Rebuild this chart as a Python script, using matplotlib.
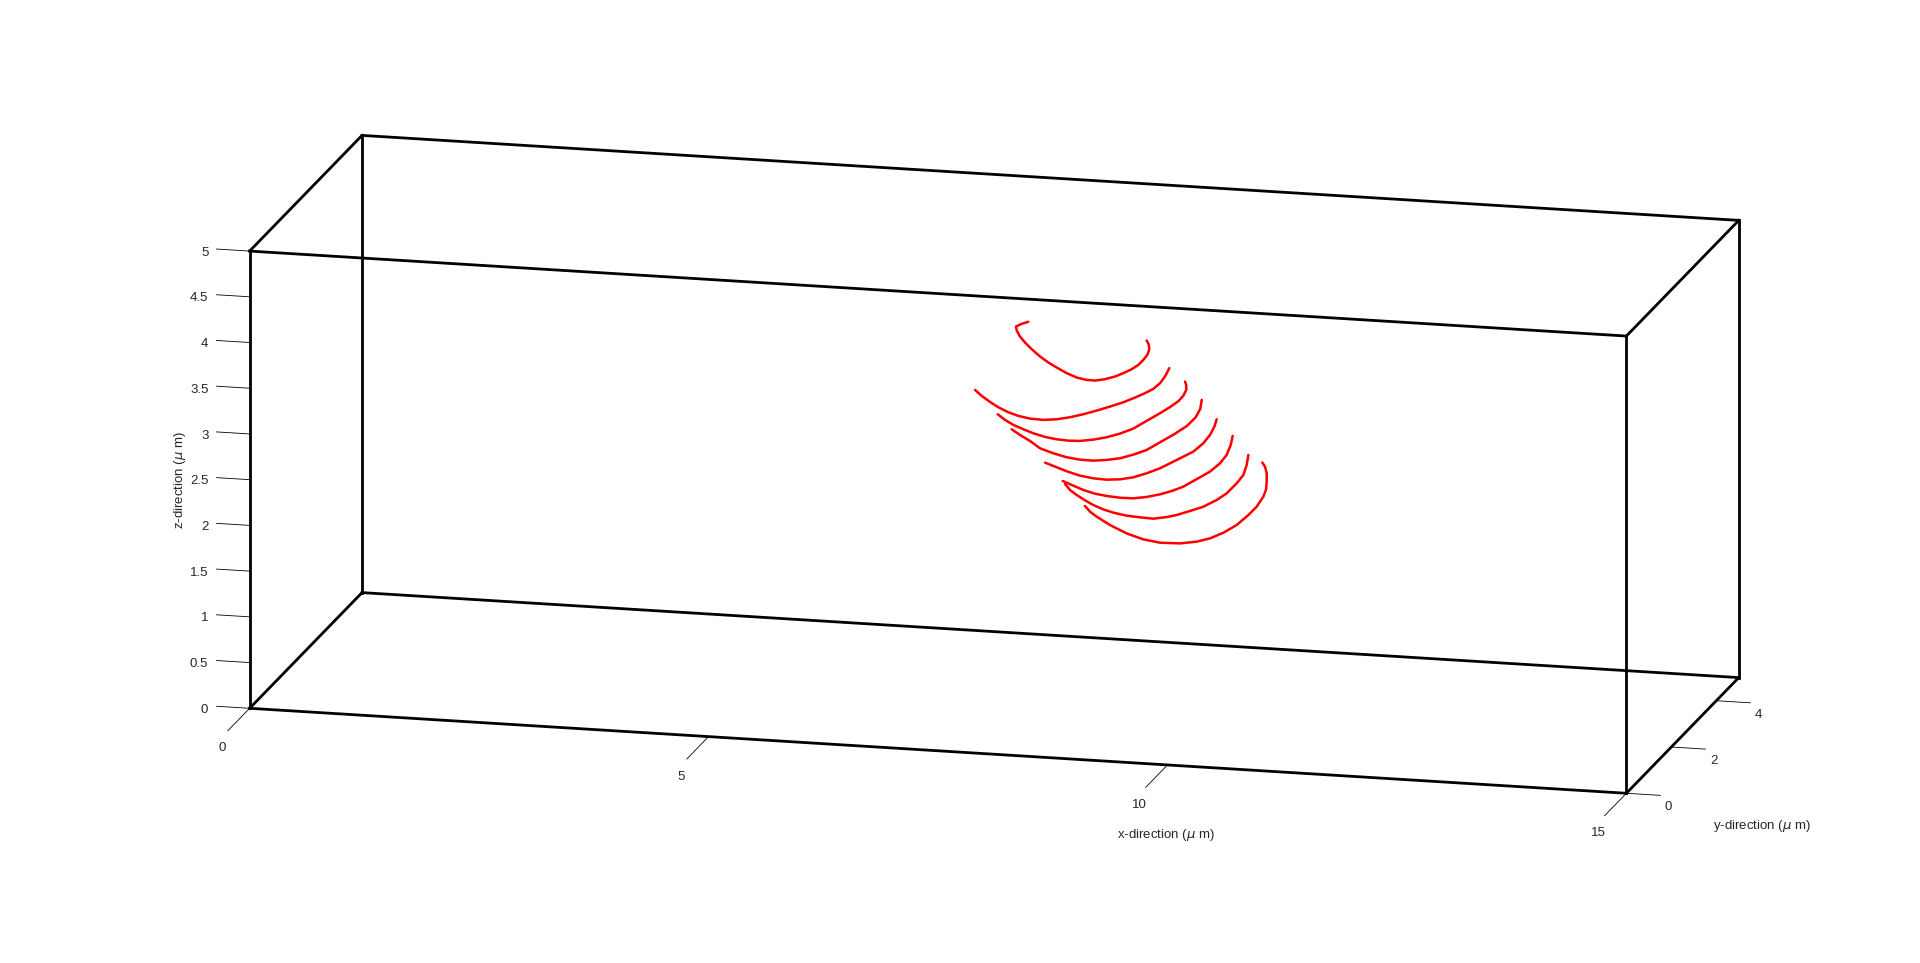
import itertools
import numpy as np
import matplotlib
matplotlib.use("Agg")
import matplotlib.pyplot as plt
from mpl_toolkits.mplot3d import proj3d

plt.rcParams['font.family'] = ['Liberation Sans', 'DejaVu Sans']

# axis limits and ticks
x_lim = (0, 15)
y_lim = (0, 5)
z_lim = (0, 5)
x_ticks = [0, 5, 10, 15]
y_ticks = [0, 2, 4]
z_ticks = [0, 0.5, 1, 1.5, 2, 2.5, 3, 3.5, 4, 4.5, 5]
z_tick_labels = ['0', '0.5', '1', '1.5', '2', '2.5', '3', '3.5', '4', '4.5', '5']

# red curves (all lie on the plane y = curve_y)
curve_y = 2.5
curve_x = [
    [7.872, 7.799, 7.738, 7.745, 7.781, 7.836, 7.908, 8.000, 8.090, 8.181, 8.290, 8.399,
     8.500, 8.598, 8.707, 8.816, 8.907, 8.998, 9.071, 9.125, 9.169, 9.190, 9.183, 9.161],
    [7.291, 7.364, 7.454, 7.545, 7.654, 7.763, 7.890, 8.035, 8.181, 8.326, 8.471, 8.617,
     8.762, 8.907, 9.034, 9.143, 9.234, 9.307, 9.361, 9.408],
    [7.538, 7.618, 7.709, 7.818, 7.926, 8.054, 8.181, 8.308, 8.435, 8.580, 8.725, 8.871,
     9.016, 9.161, 9.307, 9.416, 9.510, 9.562, 9.593, 9.592, 9.579],
    [7.690, 7.781, 7.890, 8.000, 8.144, 8.290, 8.435, 8.580, 8.725, 8.871, 9.016, 9.161,
     9.307, 9.460, 9.600, 9.695, 9.745, 9.761],
    [8.054, 8.163, 8.290, 8.435, 8.580, 8.725, 8.871, 9.016, 9.161, 9.307, 9.488, 9.670,
     9.779, 9.851, 9.899, 9.924],
    [8.246, 8.362, 8.471, 8.598, 8.725, 8.871, 9.016, 9.161, 9.307, 9.434, 9.561, 9.742,
     9.851, 9.960, 10.033, 10.077, 10.098],
    [8.271, 8.326, 8.399, 8.489, 8.580, 8.689, 8.798, 8.943, 9.089, 9.234, 9.379, 9.488,
     9.633, 9.779, 9.924, 10.033, 10.142, 10.215, 10.251, 10.269],
    [8.489, 8.544, 8.616, 8.762, 8.943, 9.125, 9.307, 9.525, 9.706, 9.851, 9.997, 10.142,
     10.269, 10.360, 10.432, 10.461, 10.469, 10.469, 10.451, 10.421],
]
curve_z = [
    [4.082, 4.055, 4.022, 3.979, 3.915, 3.853, 3.785, 3.710, 3.650, 3.601, 3.546, 3.505,
     3.486, 3.484, 3.506, 3.542, 3.584, 3.633, 3.685, 3.743, 3.801, 3.864, 3.918, 3.957],
    [3.301, 3.240, 3.180, 3.127, 3.079, 3.046, 3.024, 3.019, 3.035, 3.066, 3.108, 3.157,
     3.210, 3.266, 3.325, 3.380, 3.433, 3.499, 3.576, 3.670],
    [3.050, 2.993, 2.944, 2.903, 2.866, 2.834, 2.816, 2.809, 2.814, 2.837, 2.872, 2.921,
     2.985, 3.078, 3.171, 3.245, 3.318, 3.380, 3.444, 3.499, 3.534],
    [2.895, 2.839, 2.780, 2.706, 2.661, 2.626, 2.609, 2.607, 2.624, 2.651, 2.700, 2.760,
     2.853, 2.950, 3.050, 3.150, 3.245, 3.345],
    [2.553, 2.516, 2.473, 2.434, 2.414, 2.408, 2.421, 2.452, 2.505, 2.569, 2.671, 2.774,
     2.872, 2.967, 3.061, 3.143],
    [2.364, 2.320, 2.280, 2.247, 2.230, 2.220, 2.222, 2.246, 2.284, 2.328, 2.384, 2.497,
     2.566, 2.664, 2.760, 2.872, 2.972],
    [2.333, 2.271, 2.220, 2.168, 2.122, 2.081, 2.052, 2.028, 2.019, 2.013, 2.040, 2.069,
     2.122, 2.178, 2.260, 2.340, 2.456, 2.552, 2.664, 2.774],
    [2.106, 2.047, 1.997, 1.914, 1.834, 1.780, 1.755, 1.761, 1.791, 1.836, 1.907, 2.000,
     2.117, 2.214, 2.328, 2.403, 2.495, 2.586, 2.658, 2.700],
]

fig = plt.figure(figsize=(19.2, 9.63), dpi=100)
ax = fig.add_axes([0.0043, -0.506, 1.0, 1920 / 963], projection='3d')
ax.set_proj_type('ortho')
ax.view_init(elev=14.6, azim=-76.24)
ax.set_box_aspect((3, 1, 1), zoom=0.7923)
ax.set_xlim(*x_lim)
ax.set_ylim(*y_lim)
ax.set_zlim(*z_lim)
# the built-in 3d axes are hidden; box, ticks and labels are drawn below
ax.set_xticks([])
ax.set_yticks([])
ax.set_zticks([])
ax.set_axis_off()

M = ax.get_proj()


def label3d(x, y, z, s, **kw):
    # project the 3d anchor once and put a plain 2d text there
    px, py, _ = proj3d.proj_transform(x, y, z, M)
    ax.text2D(px, py, s, transform=ax.transData, fontsize=fs, color=tc, **kw)


# box: all 12 edges
corners = list(itertools.product(x_lim, y_lim, z_lim))
for p, q in itertools.combinations(corners, 2):
    if sum(a != b for a, b in zip(p, q)) == 1:
        ax.plot([p[0], q[0]], [p[1], q[1]], [p[2], q[2]], color='black', lw=2.0,
                solid_capstyle='projecting')

fs = 9.5
tc = '#262626'
# x ticks along the front bottom edge
for xt in x_ticks:
    ax.plot([xt, xt], [y_lim[0], y_lim[0] - 0.97], [z_lim[0], z_lim[0]], color='black', lw=0.6)
    label3d(xt, y_lim[0] - 1.23, z_lim[0] - 0.125, str(xt), ha='center', va='center')

# y ticks along the right bottom edge
for yt in y_ticks:
    ax.plot([x_lim[1], x_lim[1] + 0.37], [yt, yt], [z_lim[0], z_lim[0]], color='black', lw=0.6)
    label3d(x_lim[1] + 0.46, yt, z_lim[0] - 0.125, str(yt), ha='center', va='center')

# z ticks along the front left edge
for zt, lab in zip(z_ticks, z_tick_labels):
    ax.plot([x_lim[0], x_lim[0] - 0.36], [y_lim[0], y_lim[0]], [zt, zt], color='black', lw=0.6)
    label3d(x_lim[0] - 0.45, y_lim[0], zt - 0.045, lab, ha='right', va='center')

label3d(10.29, -1.23, -0.435, r'x-direction ($\mu$ m)', ha='center', va='center')
label3d(15.46, 4.17, -1.385, r'y-direction ($\mu$ m)', ha='center', va='center')
label3d(-0.755, 0, 2.446, r'z-direction ($\mu$ m)', ha='center', va='center', rotation=90)

for cx, cz in zip(curve_x, curve_z):
    ax.plot(cx, [curve_y] * len(cx), cz, color='red', lw=1.8,
            solid_joinstyle='round', solid_capstyle='round')

fig.savefig('out.png', dpi=100)
